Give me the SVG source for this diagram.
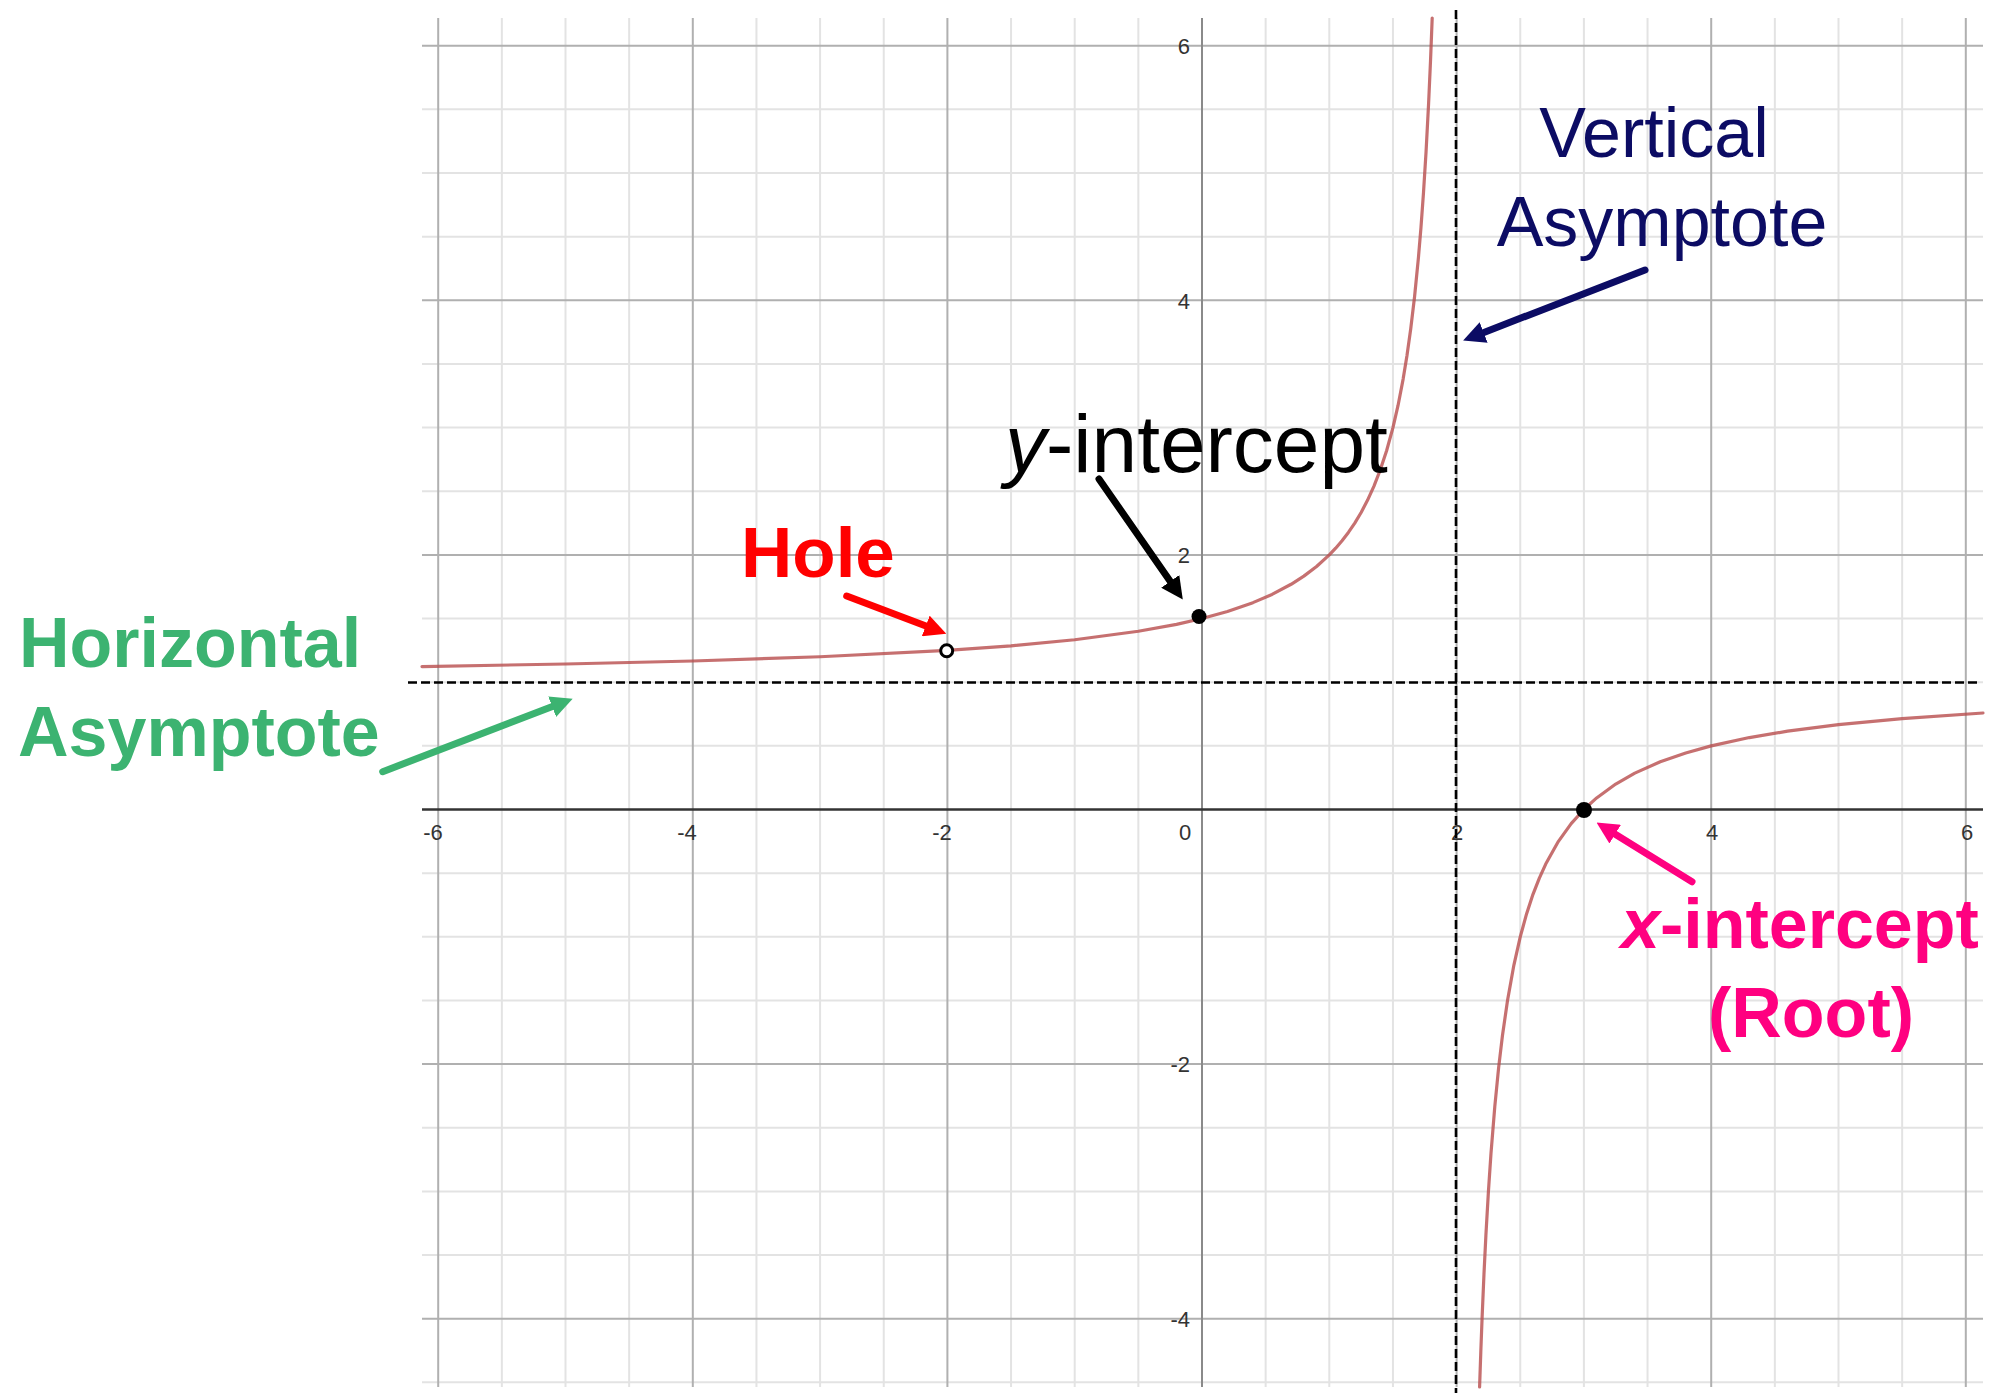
<svg xmlns="http://www.w3.org/2000/svg" width="1997" height="1395" viewBox="0 0 1997 1395">
<style>
.minor{stroke:#e3e3e3;stroke-width:2;fill:none}
.major{stroke:#b0b0b0;stroke-width:2;fill:none}
.tick{font-family:"Liberation Sans",Arial,sans-serif;font-size:22px;fill:#333}
.asym{stroke:#000;stroke-width:2.6;stroke-dasharray:9 4;fill:none}
.curve{stroke:#b84c4c;stroke-opacity:0.8;stroke-width:3.2;fill:none;stroke-linejoin:round;stroke-linecap:round}
.lbl{font-family:"Liberation Sans",Arial,sans-serif;font-size:70px}
.b{font-weight:bold}
.arr{fill:none;stroke-width:7;stroke-linecap:round}
</style>
<defs>
<marker id="hNavy" markerUnits="userSpaceOnUse" viewBox="0 0 20 20" markerWidth="22" markerHeight="22" refX="6" refY="10" orient="auto"><path d="M0,0 L20,10 L0,20 z" fill="#0c0c64"/></marker>
<marker id="hBlack" markerUnits="userSpaceOnUse" viewBox="0 0 20 20" markerWidth="22" markerHeight="22" refX="6" refY="10" orient="auto"><path d="M0,0 L20,10 L0,20 z" fill="#000"/></marker>
<marker id="hRed" markerUnits="userSpaceOnUse" viewBox="0 0 20 20" markerWidth="22" markerHeight="22" refX="6" refY="10" orient="auto"><path d="M0,0 L20,10 L0,20 z" fill="#ff0000"/></marker>
<marker id="hGreen" markerUnits="userSpaceOnUse" viewBox="0 0 20 20" markerWidth="22" markerHeight="22" refX="6" refY="10" orient="auto"><path d="M0,0 L20,10 L0,20 z" fill="#3cb371"/></marker>
<marker id="hPink" markerUnits="userSpaceOnUse" viewBox="0 0 20 20" markerWidth="22" markerHeight="22" refX="6" refY="10" orient="auto"><path d="M0,0 L20,10 L0,20 z" fill="#ff0080"/></marker>
</defs>
<rect width="1997" height="1395" fill="#fff"/>
<g id="grid">
<path class="minor" d="M501.85 18V1387M565.5 18V1387M629.15 18V1387M756.45 18V1387M820.1 18V1387M883.75 18V1387M1011.05 18V1387M1074.7 18V1387M1138.35 18V1387M1265.65 18V1387M1329.3 18V1387M1392.95 18V1387M1520.25 18V1387M1583.9 18V1387M1647.55 18V1387M1774.85 18V1387M1838.5 18V1387M1902.15 18V1387
M422 109.35H1983M422 173H1983M422 236.65H1983M422 363.95H1983M422 427.6H1983M422 491.25H1983M422 618.55H1983M422 682.2H1983M422 745.85H1983M422 873.15H1983M422 936.8H1983M422 1000.45H1983M422 1127.75H1983M422 1191.4H1983M422 1255.05H1983M422 1382.35H1983"/>
<path class="major" d="M438.2 18V1387M692.8 18V1387M947.4 18V1387M1456.6 18V1387M1711.2 18V1387M1965.8 18V1387M422 45.7H1983M422 300.3H1983M422 554.9H1983M422 1064.1H1983M422 1318.7H1983"/>
</g>
<g id="axes">
<path d="M1202 18V1387" stroke="#8a8a8a" stroke-width="2"/>
<path d="M422 809.5H1983" stroke="#333" stroke-width="2.6"/>
</g>
<g id="tick-labels" class="tick">
<text x="1190" y="53.5" text-anchor="end">6</text>
<text x="1190" y="308.5" text-anchor="end">4</text>
<text x="1190" y="563" text-anchor="end">2</text>
<text x="1190" y="1072" text-anchor="end">-2</text>
<text x="1190" y="1326.5" text-anchor="end">-4</text>
<text x="433" y="840" text-anchor="middle">-6</text>
<text x="687" y="840" text-anchor="middle">-4</text>
<text x="942" y="840" text-anchor="middle">-2</text>
<text x="1185" y="840" text-anchor="middle">0</text>
<text x="1457" y="840" text-anchor="middle">2</text>
<text x="1712" y="840" text-anchor="middle">4</text>
<text x="1967" y="840" text-anchor="middle">6</text>
</g>
<g id="asymptotes">
<path class="asym" d="M408 682.5H1977"/>
<path class="asym" d="M1456 10V1393"/>
</g>
<g id="curve">
<path class="curve" d="M422,666.54 L565.5,664.01 L692.8,660.98 L820.1,656.74 L947.4,650.38 L1011.05,645.83 L1074.7,639.77 L1138.35,631.28 L1176.54,624.34 L1202,618.55 L1227.46,611.48 L1252.92,602.64 L1272.02,594.41 L1291.11,584.28 L1303.84,576.12 L1316.57,566.47 L1329.3,554.9 L1335.67,548.2 L1342.03,540.76 L1348.4,532.44 L1354.76,523.08 L1361.13,512.47 L1367.49,500.34 L1373.86,486.35 L1380.22,470.03 L1386.59,450.75 L1392.95,427.6 L1398.04,405.46 L1403.13,379.11 L1406.95,355.79 L1410.77,328.59 L1414.59,296.44 L1418.41,257.87 L1420.96,227.56 L1423.5,192.58 L1426.05,151.78 L1428.59,103.56 L1430.5,61.22 L1432.2,18"/>
<path class="curve" d="M1479.59,1387 L1480.79,1352.2 L1482.06,1318.7 L1483.97,1274.29 L1485.88,1235.68 L1488.43,1191.4 L1490.97,1153.68 L1494.79,1106.53 L1498.61,1067.96 L1502.43,1035.81 L1507.52,1000.45 L1513.89,965.09 L1520.25,936.8 L1526.62,913.66 L1532.98,894.37 L1539.35,878.05 L1545.71,864.06 L1558.44,841.33 L1571.17,823.64 L1583.9,809.5 L1596.63,797.93 L1615.73,784.04 L1634.82,773.13 L1660.28,761.76 L1685.74,752.92 L1711.2,745.85 L1749.39,737.55 L1787.58,731.16 L1838.5,724.63 L1902.15,718.57 L1983,713"/>
</g>
<g id="point-hole"><circle cx="946.7" cy="650.7" r="6" fill="#fff" stroke="#000" stroke-width="3"/></g>
<g id="point-y-intercept"><circle cx="1199" cy="616.5" r="7.5" fill="#000"/></g>
<g id="point-x-intercept"><circle cx="1584" cy="810" r="8" fill="#000"/></g>
<g id="label-vertical-asymptote" class="lbl" fill="#0c0c64">
<text x="1654" y="156.7" text-anchor="middle">Vertical</text>
<text x="1662" y="246" text-anchor="middle">Asymptote</text>
</g>
<g id="label-y-intercept">
<text x="1005" y="471.5" font-family="Liberation Sans, Arial, sans-serif" font-size="82" fill="#000"><tspan font-style="italic">y</tspan>-intercept</text>
</g>
<g id="label-hole">
<text x="741" y="577.3" class="lbl b" fill="#ff0000" style="font-size:71px">Hole</text>
</g>
<g id="label-horizontal-asymptote" class="lbl b" fill="#3cb371">
<text x="19" y="666.7">Horizontal</text>
<text x="18" y="756">Asymptote</text>
</g>
<g id="label-x-intercept" class="lbl b" fill="#ff0080">
<text x="1621" y="947.7"><tspan font-style="italic">x</tspan>-intercept</text>
<text x="1708" y="1036.7">(Root)</text>
</g>
<g id="connectors">
<path class="arr" stroke="#0c0c64" d="M1645 270L1477.5 334.9" marker-end="url(#hNavy)"/>
<path class="arr" stroke="#000" d="M1099 479L1174 586.8" marker-end="url(#hBlack)"/>
<path class="arr" stroke="#ff0000" d="M846.7 596L931.9 628.3" marker-end="url(#hRed)"/>
<path class="arr" stroke="#3cb371" d="M382.7 771.7L558.3 704.3" marker-end="url(#hGreen)"/>
<path class="arr" stroke="#ff0080" d="M1692 881.7L1609.6 830.7" marker-end="url(#hPink)"/>
</g>
</svg>
